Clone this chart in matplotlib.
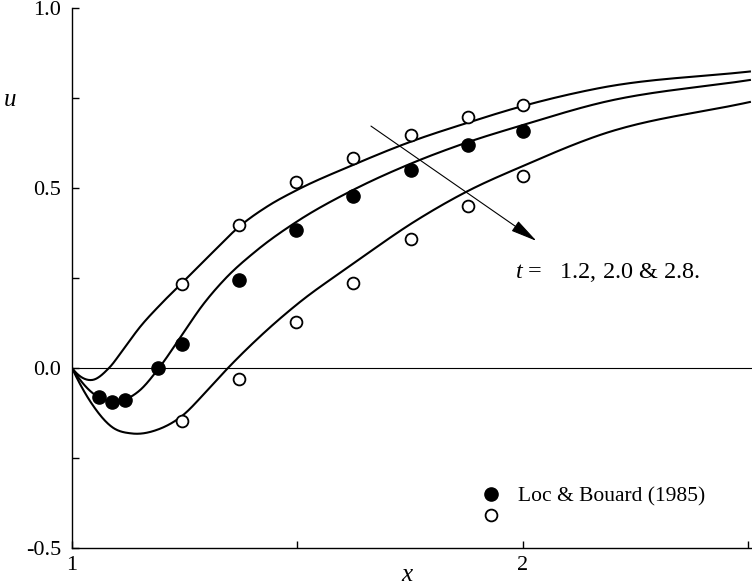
import numpy as np
import matplotlib
matplotlib.use('Agg')
import matplotlib.pyplot as plt
from matplotlib.lines import Line2D

plt.rcParams['font.family'] = ['Liberation Serif', 'DejaVu Serif']
plt.rcParams['mathtext.fontset'] = 'custom'
plt.rcParams['mathtext.it'] = 'Liberation Serif:italic'
plt.rcParams['mathtext.rm'] = 'Liberation Serif'

# computed curves, t = 1.2, 2.0, 2.8
curve_12_x = [1.0, 1.0443, 1.0820, 1.1175, 1.1508, 1.1951, 1.2439, 1.3060, 1.3725, 1.4346,
	1.4989, 1.6231, 1.7494, 1.8758, 2.0, 2.1707, 2.5033]
curve_12_y = [0.0, -0.0333, 0.0, 0.0583, 0.1139, 0.1750, 0.2361, 0.3139, 0.3944, 0.4500,
	0.4944, 0.5639, 0.6278, 0.6806, 0.7278, 0.7778, 0.8236]

curve_20_x = [1.0, 1.0599, 1.0887, 1.1175, 1.1486, 1.1929, 1.2439, 1.2882, 1.3392, 1.4080,
	1.4989, 1.6231, 1.7494, 1.8758, 2.0, 2.1707, 2.5033]
curve_20_y = [0.0, -0.0819, -0.0931, -0.0875, -0.0639, 0.0, 0.0917, 0.1722, 0.2472, 0.3250,
	0.4069, 0.4944, 0.5667, 0.6264, 0.6750, 0.7361, 0.8000]

curve_28_x = [1.0, 1.0443, 1.0887, 1.1330, 1.1907, 1.2439, 1.2949, 1.3459, 1.4169, 1.5055,
	1.6164, 1.7650, 1.8758, 2.0, 2.1707, 2.5033]
curve_28_y = [0.0, -0.1000, -0.1639, -0.1819, -0.1708, -0.1333, -0.0694, 0.0, 0.0875, 0.1833,
	0.2833, 0.4111, 0.4903, 0.5611, 0.6472, 0.7389]

# Loc & Bouard (1985)
open_top_x = [1.244, 1.370, 1.497, 1.623, 1.752, 1.878, 2.0]
open_top_y = [0.233, 0.397, 0.517, 0.583, 0.647, 0.697, 0.731]

filled_x = [1.060, 1.089, 1.118, 1.191, 1.244, 1.370, 1.497, 1.623, 1.752, 1.878, 2.0]
filled_y = [-0.081, -0.094, -0.089, 0.0, 0.067, 0.244, 0.383, 0.478, 0.550, 0.619, 0.658]

open_low_x = [1.244, 1.370, 1.497, 1.623, 1.752, 1.878, 2.0]
open_low_y = [-0.147, -0.031, 0.128, 0.236, 0.358, 0.450, 0.533]


def smooth(x, y, n=40):
	# cubic Hermite in x through the read points, only to draw a smooth line
	x = np.asarray(x, float)
	y = np.asarray(y, float)
	h = np.diff(x)
	d = np.diff(y) / h
	m = np.empty_like(y)
	m[1:-1] = (h[1:] * d[:-1] + h[:-1] * d[1:]) / (h[:-1] + h[1:])
	m[0] = 2 * d[0] - m[1]
	m[-1] = d[-1]
	xs, ys = [], []
	s = np.linspace(0, 1, n, endpoint=False)
	for i in range(len(x) - 1):
		h00 = 2 * s**3 - 3 * s**2 + 1
		h10 = s**3 - 2 * s**2 + s
		h01 = -2 * s**3 + 3 * s**2
		h11 = s**3 - s**2
		xs.extend(x[i] + s * h[i])
		ys.extend(h00 * y[i] + h10 * h[i] * m[i] + h01 * y[i + 1] + h11 * h[i] * m[i + 1])
	xs.append(x[-1])
	ys.append(y[-1])
	return np.array(xs), np.array(ys)


fig = plt.figure(figsize=(7.52, 5.87), dpi=100)
ax = fig.add_axes([72 / 752, 1 - 548 / 587, 1 - 72 / 752, 540 / 587])

ax.axhline(0, color='black', lw=0.8, zorder=1)

for cx, cy in ((curve_12_x, curve_12_y), (curve_20_x, curve_20_y), (curve_28_x, curve_28_y)):
	sx, sy = smooth(cx, cy)
	ax.plot(sx, sy, color='black', lw=1.5, zorder=2)

ax.plot(open_top_x, open_top_y, 'o', ms=8.5, mfc='white', mec='black', mew=1.3, zorder=3)
ax.plot(open_low_x, open_low_y, 'o', ms=8.5, mfc='white', mec='black', mew=1.3, zorder=3)
ax.plot(filled_x, filled_y, 'o', ms=9.5, mfc='black', mec='black', zorder=3)

ax.annotate('', xy=(2.03, 0.353), xytext=(1.663, 0.672),
	arrowprops=dict(arrowstyle='-|>,head_length=0.75,head_width=0.17', color='black',
		lw=0.8, mutation_scale=22, shrinkA=0, shrinkB=0))
ax.text(1.982, 0.264, r'$t$ =   1.2, 2.0 & 2.8.', fontsize=17.5, ha='left', va='center')

handles = [
	Line2D([], [], ls='none', marker='o', ms=9.5, mfc='black', mec='black'),
	Line2D([], [], ls='none', marker='o', ms=8.5, mfc='white', mec='black', mew=1.3),
]
ax.legend(handles, ['Loc & Bouard (1985)', ''], loc='upper left',
	bbox_to_anchor=(0.584, 0.134), frameon=False, fontsize=15.5,
	handlelength=1.0, handletextpad=0.75, labelspacing=0.05, borderpad=0)

ax.set_xlim(1, 2.508)
ax.set_ylim(-0.5, 1.0)
ax.set_xticks([1, 1.5, 2, 2.5])
ax.set_xticklabels(['1', '', '2', ''])
ax.set_yticks([-0.5, -0.25, 0, 0.25, 0.5, 0.75, 1.0])
ax.set_yticklabels(['-0.5', '', '0.0', '', '0.5', '', '1.0'])
ax.tick_params(direction='in', length=5, width=1, labelsize=16, pad=8)
ax.tick_params(axis='x', pad=6)

for side in ('top', 'right'):
	ax.spines[side].set_visible(False)
for side in ('left', 'bottom'):
	ax.spines[side].set_linewidth(1.0)

ax.set_xlabel('$x$', fontsize=18)
ax.xaxis.set_label_coords(0.494, -0.03)
ax.set_ylabel('$u$', fontsize=18, rotation=0, ha='center', va='center')
ax.yaxis.set_label_coords(-0.092, 0.83)

fig.savefig('out.png', dpi=100)
